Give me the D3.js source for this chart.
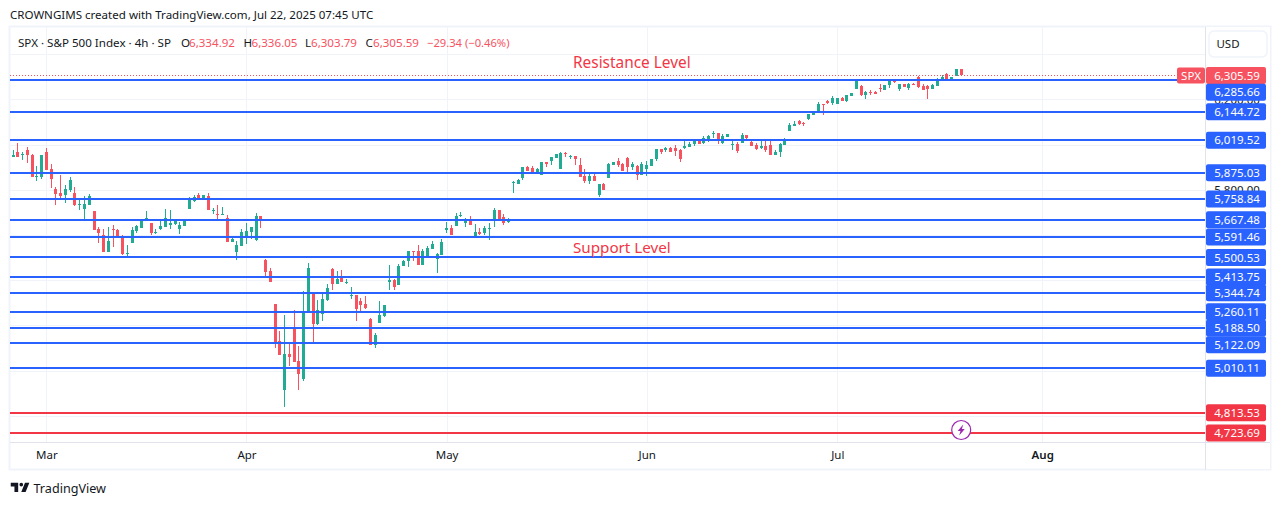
<!DOCTYPE html>
<html>
<head>
<meta charset="utf-8">
<script src="https://cdn.jsdelivr.net/npm/d3@7"></script>
<style>
html,body{margin:0;padding:0;background:#fff;overflow:hidden}
svg{display:block}
text{font-family:"Noto Sans",sans-serif}
</style>
</head>
<body>
<svg id="c" width="1281" height="505"></svg>
<script>
const opens=[5944,5969,5953,5978,5956,5856,5856,5969,5890,5802,
5784,5775,5797,5784,5731,5714,5731,5705,5625,5599,
5524,5625,5621,5590,5515,5564,5617,5630,5662,5652,
5608,5625,5634,5643,5647,5625,5639,5714,5749,5775,
5758,5771,5705,5692,5687,5674,5568,5524,5550,5586,
5612,5577,5683,5491,5442,5293,5131,4912,5074,5193,
5044,4961,5254,5342,5206,5250,5311,5451,5385,5412,
5390,5329,5333,5307,5293,5228,5114,5210,5241,5394,
5399,5377,5463,5485,5529,5529,5467,5502,5538,5493,
5511,5621,5630,5639,5683,5652,5670,5591,5613,5608,
5626,5665,5710,5679,5657,5830,5825,5852,5900,5896,
5878,5865,5923,5927,5940,5892,5962,5945,5949,5909,
5861,5839,5861,5777,5825,5852,5909,5927,5914,5940,
5900,5905,5865,5892,5905,5936,5980,5975,5984,5984,
5975,5984,5989,6002,6015,6006,6019,6046,6050,6006,
6033,5997,6002,6006,6041,6011,5997,5984,5993,5997,
5953,5966,5997,6060,6082,6104,6095,6113,6131,6148,
6179,6193,6184,6179,6206,6193,6215,6246,6259,6219,
6232,6232,6250,6241,6263,6285,6246,6268,6250,6268,
6299,6259,6259,6246,6259,6285,6312,6285,6303,6334.92];
const highs=[5978,6009,5966,5991,5959,5903,5955,5983,5916,5811,
5864,5819,5858,5811,5758,5771,5780,5705,5634,5625,
5634,5643,5625,5599,5555,5634,5643,5670,5705,5652,
5625,5670,5714,5709,5670,5656,5670,5767,5775,5784,
5775,5784,5718,5731,5722,5687,5586,5572,5625,5652,
5634,5696,5683,5495,5456,5293,5175,5245,5123,5267,
5110,5350,5477,5346,5311,5346,5381,5456,5442,5447,
5407,5368,5333,5320,5329,5232,5166,5307,5289,5469,
5403,5473,5489,5529,5529,5555,5538,5551,5573,5520,
5582,5657,5643,5696,5701,5674,5683,5648,5630,5639,
5652,5718,5710,5692,5674,5839,5848,5900,5905,5905,
5896,5923,5923,5945,5958,5967,5967,5953,5949,5940,
5892,5874,5878,5825,5830,5918,5923,5940,5918,5945,
5922,5909,5922,5927,5936,5980,5980,5989,5989,5997,
5980,6015,6011,6024,6019,6037,6042,6059,6050,6046,
6046,6024,6011,6050,6041,6024,6006,6015,6015,6019,
5975,6006,6028,6095,6104,6108,6100,6135,6148,6188,
6179,6197,6215,6206,6210,6219,6228,6285,6263,6237,
6241,6237,6268,6263,6290,6290,6268,6268,6272,6272,
6303,6268,6263,6268,6294,6308,6316,6299,6334,6336.05];
const lows=[5944,5947,5930,5918,5856,5837,5847,5886,5809,5731,
5758,5742,5790,5728,5709,5665,5731,5621,5564,5524,
5524,5546,5586,5511,5502,5564,5608,5630,5661,5599,
5603,5621,5634,5625,5643,5603,5639,5714,5744,5758,
5758,5709,5692,5670,5687,5568,5568,5489,5550,5559,
5581,5572,5630,5410,5390,5101,5070,4838,5022,5039,
4912,4952,5254,5118,5202,5219,5307,5355,5381,5390,
5385,5315,5219,5254,5272,5114,5101,5210,5237,5355,
5355,5377,5463,5458,5485,5467,5467,5502,5538,5432,
5511,5608,5599,5639,5679,5635,5643,5586,5599,5599,
5577,5635,5661,5643,5652,5786,5825,5843,5883,5874,
5874,5865,5900,5909,5940,5892,5945,5936,5909,5856,
5830,5825,5839,5768,5799,5852,5909,5900,5883,5874,
5887,5843,5865,5861,5905,5927,5958,5967,5967,5949,
5922,5980,5989,5993,6002,6002,6011,6028,6002,6002,
6033,5975,5962,6006,6019,5993,5975,5980,5966,5953,
5953,5944,5997,6060,6082,6086,6082,6108,6131,6144,
6131,6179,6175,6179,6193,6188,6215,6246,6215,6201,
6219,6224,6232,6241,6250,6272,6237,6255,6241,6263,
6250,6241,6201,6246,6259,6285,6285,6285,6303,6303.79];
const closes=[5952,5947,5958,5953,5856,5861,5952,5886,5846,5780,
5771,5802,5841,5731,5736,5736,5771,5621,5608,5524,
5572,5621,5590,5515,5520,5621,5639,5665,5674,5608,
5612,5639,5674,5652,5661,5643,5665,5762,5767,5758,
5775,5709,5709,5687,5692,5568,5581,5555,5612,5617,
5634,5683,5665,5438,5390,5127,5070,5074,5061,5039,
4983,5254,5456,5206,5267,5315,5364,5385,5403,5390,
5394,5333,5272,5289,5276,5114,5158,5245,5289,5399,
5368,5464,5485,5529,5524,5467,5529,5542,5560,5516,
5568,5630,5599,5683,5688,5665,5643,5613,5604,5630,
5630,5710,5661,5652,5665,5834,5843,5900,5883,5874,
5892,5923,5914,5945,5958,5962,5958,5949,5936,5856,
5839,5861,5839,5825,5799,5914,5923,5909,5883,5900,
5914,5865,5914,5909,5936,5980,5967,5984,5967,5971,
5936,5993,6002,6015,6002,6028,6037,6050,6019,6037,
6046,6002,5971,6041,6028,5993,5980,5993,5975,5953,
5966,6002,6024,6086,6091,6091,6091,6135,6139,6179,
6175,6184,6206,6206,6193,6219,6228,6281,6219,6232,
6228,6224,6246,6263,6281,6277,6268,6255,6268,6263,
6255,6241,6246,6263,6290,6299,6285,6299,6334,6305.59];

const supportResistance=[6285.66,6144.72,6019.52,5875.03,5758.84,5667.48,5591.46,5500.53,5413.75,5344.74,5260.11,5188.50,5122.09,5010.11];
const lowerLevels=[4813.53,4723.69];
const priceGrid=[6400,6200,6000,5800,5600,5400,5200,5000,4800];
const priceTickLabels=[6200,5800];
const monthLabels=["Mar","Apr","May","Jun","Jul","Aug"];
const monthBars=[7,49,91,133,173,216];
const lastClose=6305.59;

const svg=d3.select("#c");
const pane={l:10,r:1205,t:27,b:442};
const x=d3.scaleLinear().domain([0,closes.length-1]).range([13,961.2]);
const y=d3.scaleLinear().domain([4723.69,6285.66]).range([433,80]);
const GREEN="#22ab94",RED="#f7525f",BLUE="#2962ff",LRED="#f23645",INK="#131722",GRID="#f0f3fa",EDGE="#e0e3eb";
const fmt=d3.format(",.2f");
const fx=i=>Math.floor(x(i));

// header
svg.append("text").attr("x",10).attr("y",19).attr("font-size",11.55).attr("fill",INK)
  .text("CROWNGIMS created with TradingView.com, Jul 22, 2025 07:45 UTC");

// frame
svg.append("rect").attr("x",9.5).attr("y",26.5).attr("width",1261).attr("height",443).attr("fill","#fff").attr("stroke",GRID).attr("stroke-width",2);

// grid
const gg=svg.append("g").attr("shape-rendering","crispEdges");
gg.selectAll("line.h").data(priceGrid).join("line").attr("class","h")
  .attr("x1",pane.l).attr("x2",pane.r).attr("y1",d=>Math.round(y(d))+.5).attr("y2",d=>Math.round(y(d))+.5).attr("stroke",GRID);
gg.selectAll("line.v").data(monthBars).join("line").attr("class","v")
  .attr("y1",pane.t).attr("y2",pane.b).attr("x1",d=>Math.round(x(d))+.5).attr("x2",d=>Math.round(x(d))+.5).attr("stroke",GRID);

// candles
const bars=d3.range(closes.length);
const col=i=>closes[i]>=opens[i]?GREEN:RED;
const cg=svg.append("g").attr("shape-rendering","crispEdges");
cg.selectAll("rect.w").data(bars).join("rect").attr("class","w")
  .attr("x",fx).attr("width",1).attr("y",i=>y(highs[i])).attr("height",i=>Math.max(1,y(lows[i])-y(highs[i]))).attr("fill",col);
cg.selectAll("rect.b").data(bars).join("rect").attr("class","b")
  .attr("x",i=>fx(i)-1).attr("width",3)
  .attr("y",i=>y(Math.max(opens[i],closes[i])))
  .attr("height",i=>Math.max(1,Math.abs(y(opens[i])-y(closes[i])))).attr("fill",col);

// last price dotted line
svg.append("line").attr("x1",pane.l).attr("x2",1177).attr("y1",Math.round(y(lastClose))+.5).attr("y2",Math.round(y(lastClose))+.5)
  .attr("stroke",RED).attr("stroke-dasharray","1,2").attr("shape-rendering","crispEdges");

// levels
const lv=svg.append("g").attr("shape-rendering","crispEdges");
lv.selectAll("line.s").data(supportResistance).join("line").attr("class","s")
  .attr("x1",pane.l).attr("x2",pane.r).attr("y1",d=>Math.round(y(d))).attr("y2",d=>Math.round(y(d))).attr("stroke",BLUE).attr("stroke-width",2);
lv.selectAll("line.r").data(lowerLevels).join("line").attr("class","r")
  .attr("x1",pane.l).attr("x2",pane.r).attr("y1",d=>Math.round(y(d))).attr("y2",d=>Math.round(y(d))).attr("stroke",LRED).attr("stroke-width",2);

// annotations
svg.append("text").attr("x",573).attr("y",67.5).attr("font-size",15.4).attr("fill",LRED).text("Resistance Level");
svg.append("text").attr("x",573).attr("y",252.5).attr("font-size",15.2).attr("fill",LRED).text("Support Level");

// lightning badge
const bolt=svg.append("g").attr("transform",`translate(${x(199)},430)`);
bolt.append("circle").attr("r",9.5).attr("fill","#fff").attr("stroke","#9c27b0").attr("stroke-width",1.2);
bolt.append("path").attr("d","M2,-5.5 L-3.5,1 L-0.7,1 L-2,5.5 L3.5,-1 L0.7,-1 Z").attr("fill","#9c27b0");

// legend
const leg=svg.append("g").attr("font-size",11.6);
leg.append("text").attr("x",18).attr("y",47).attr("fill",INK).text("SPX · S&P 500 Index · 4h · SP");
[["O",181,6334.92,189],["H",243.5,6336.05,251.5],["L",305,6303.79,311],["C",365.5,6305.59,373]].forEach(([k,a,v,b])=>{
  leg.append("text").attr("x",a).attr("y",47).attr("fill",INK).text(k);
  leg.append("text").attr("x",b).attr("y",47).attr("fill",RED).text(fmt(v));
});
leg.append("text").attr("x",427).attr("y",47).attr("font-size",11.2).attr("fill",RED).text("−29.34 (−0.46%)");

// axes panes
const ax=svg.append("g").attr("shape-rendering","crispEdges");
ax.append("rect").attr("x",pane.r).attr("y",pane.t).attr("width",65).attr("height",442).attr("fill","#fff");
ax.append("line").attr("x1",pane.r+.5).attr("x2",pane.r+.5).attr("y1",pane.t).attr("y2",470).attr("stroke",EDGE);
ax.append("line").attr("x1",pane.l).attr("x2",1270).attr("y1",pane.b+.5).attr("y2",pane.b+.5).attr("stroke",EDGE);

// price axis
const yAxis=d3.axisRight(y).tickValues(priceTickLabels).tickFormat(fmt).tickSize(0).tickPadding(0);
const ya=svg.append("g").attr("transform",`translate(${1237},0)`).call(yAxis);
ya.select(".domain").remove();
ya.selectAll("text").attr("x",0).attr("text-anchor","middle").attr("font-size",11.5).attr("font-family",'"Noto Sans",sans-serif').attr("fill",INK);

// month axis
const xAxis=d3.axisBottom(x).tickValues(monthBars).tickFormat((d,i)=>monthLabels[i]).tickSize(0).tickPadding(0);
const xa=svg.append("g").attr("transform","translate(0,450.5)").call(xAxis);
xa.select(".domain").remove();
xa.selectAll("text").attr("font-size",11.5).attr("font-family",'"Noto Sans",sans-serif').attr("fill",INK).attr("font-weight",(d,i)=>monthLabels[i]==="Aug"?600:400);

// USD button
svg.append("rect").attr("x",1209).attr("y",31).attr("width",58).attr("height",26).attr("rx",5).attr("fill","#fff").attr("stroke",GRID).attr("stroke-width",1.5);
svg.append("text").attr("x",1228).attr("y",48).attr("text-anchor","middle").attr("font-size",11.5).attr("fill",INK).text("USD");

// price labels with collision nudging
const items=[{v:lastClose,c:RED}]
  .concat(supportResistance.map(v=>({v,c:BLUE})))
  .concat(lowerLevels.map(v=>({v,c:LRED})));
let prev=-100;
items.forEach(d=>{let p=y(d.v);if(p-prev<15.5)p=prev+16.7;d.p=p;prev=p;});
const lab=svg.append("g");
lab.selectAll("rect").data(items).join("rect")
  .attr("x",1206).attr("width",60).attr("height",17).attr("rx",2).attr("y",d=>d.p-8.5).attr("fill",d=>d.c);
lab.selectAll("text").data(items).join("text")
  .attr("x",1237).attr("y",d=>d.p+4.2).attr("text-anchor","middle").attr("font-size",11.5).attr("fill","#fff").text(d=>fmt(d.v));
// SPX tag
svg.append("rect").attr("x",1177).attr("y",y(lastClose)-8).attr("width",28).attr("height",16).attr("rx",2).attr("fill",RED);
svg.append("text").attr("x",1191).attr("y",y(lastClose)+4.2).attr("text-anchor","middle").attr("font-size",11.5).attr("fill","#fff").text("SPX");

// logo
const lg=svg.append("g").attr("transform","translate(9.5,479) scale(0.62)").attr("fill",INK);
lg.append("path").attr("d","M14 6H2v6h6v9h6V6Zm12 15h-7l6-15h7l-6 15Zm-7-9a3 3 0 1 0 0-6 3 3 0 0 0 0 6Z");
svg.append("text").attr("x",33.5).attr("y",492.5).attr("font-size",12.6).attr("fill",INK).text("TradingView");
</script>
</body>
</html>
